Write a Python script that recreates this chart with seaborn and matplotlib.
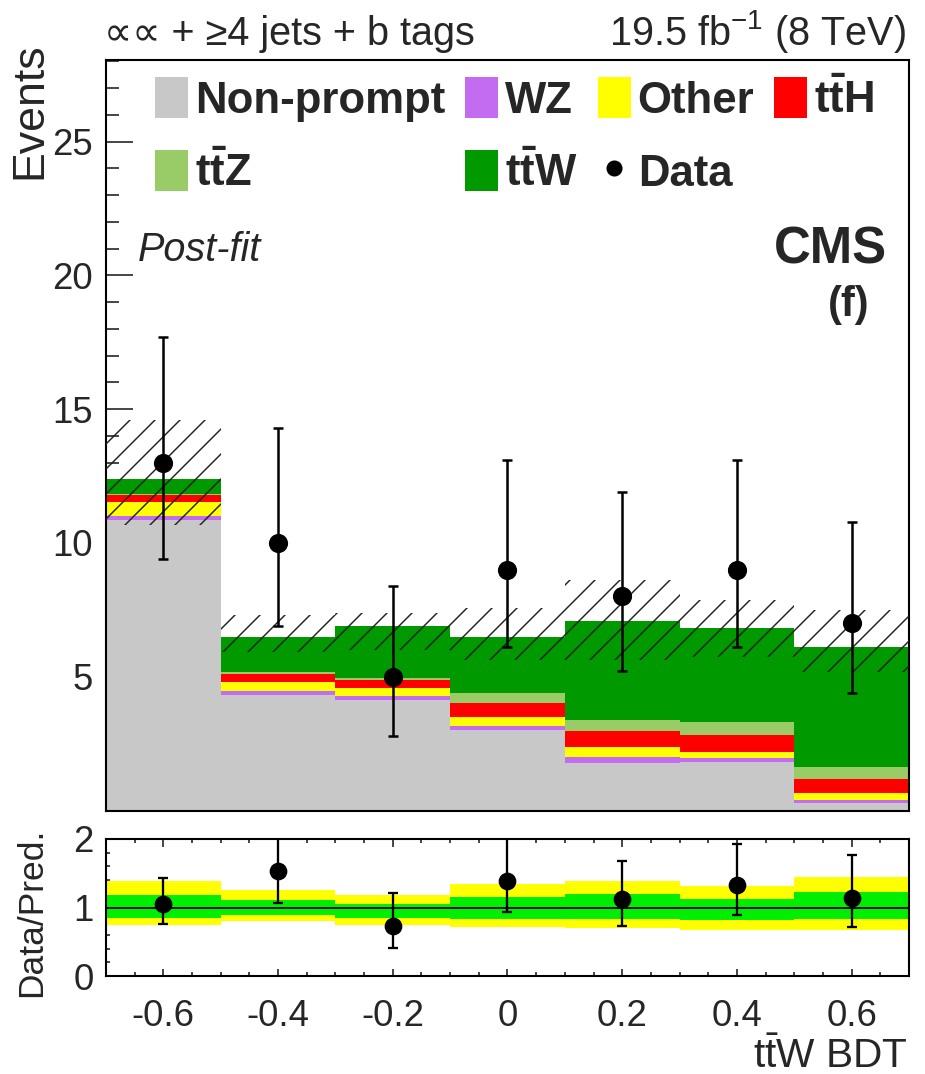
import numpy as np
import pandas as pd
import matplotlib
matplotlib.use("Agg")
import matplotlib.pyplot as plt
import seaborn as sns
from matplotlib.patches import Patch
from matplotlib.lines import Line2D
from matplotlib.ticker import MultipleLocator, FixedLocator

# ---- binning of the ttW BDT discriminant ----
bin_edges = [-0.7, -0.5, -0.3, -0.1, 0.1, 0.3, 0.5, 0.7]
bin_centers = [-0.6, -0.4, -0.2, 0.0, 0.2, 0.4, 0.6]
tick_labels = ["-0.6", "-0.4", "-0.2", "0", "0.2", "0.4", "0.6"]

# ---- post-fit expected yields per process ----
nonprompt = [10.86, 4.32, 4.13, 3.01, 1.76, 1.82, 0.27]
wz        = [0.15, 0.15, 0.16, 0.15, 0.23, 0.13, 0.12]
other     = [0.53, 0.35, 0.28, 0.35, 0.40, 0.25, 0.25]
tth       = [0.25, 0.28, 0.31, 0.52, 0.59, 0.62, 0.53]
ttz       = [0.03, 0.09, 0.06, 0.37, 0.40, 0.50, 0.47]
ttw       = [0.57, 1.31, 1.96, 2.10, 3.72, 3.49, 4.48]

# ---- uncertainty band on the total prediction ----
band_lo = [10.67, 5.94, 6.00, 5.63, 5.63, 5.74, 5.18]
band_hi = [14.60, 7.31, 7.37, 7.57, 8.62, 7.87, 7.50]

# ---- observed events with asymmetric Poisson errors ----
data = [13, 10, 5, 9, 8, 9, 7]
data_err_lo = [3.6, 3.1, 2.2, 2.9, 2.8, 2.9, 2.6]
data_err_hi = [4.7, 4.3, 3.4, 4.1, 3.9, 4.1, 3.8]

# ---- relative uncertainty bands for the ratio panel ----
ratio_inner_lo = [0.853, 0.887, 0.853, 0.838, 0.838, 0.824, 0.838]
ratio_inner_hi = [1.179, 1.116, 1.057, 1.155, 1.194, 1.131, 1.228]
ratio_outer_lo = [0.741, 0.804, 0.741, 0.716, 0.702, 0.677, 0.677]
ratio_outer_hi = [1.389, 1.262, 1.179, 1.350, 1.389, 1.311, 1.438]

processes = ["Non-prompt", "WZ", "Other", "ttH", "ttZ", "ttW"]  # bottom -> top
yields = [nonprompt, wz, other, tth, ttz, ttw]
colors = ["#c8c8c8", "#c36cf2", "#ffff00", "#ff0000", "#99cc66", "#009900"]
palette = dict(zip(processes, colors))

W, H, DPI = 926, 1074, 150

sns.set_theme(style="ticks")
plt.rcParams.update({
    "font.family": ["Liberation Sans", "DejaVu Sans"],
    "mathtext.fontset": "custom",
    "mathtext.rm": "Liberation Sans",
    "mathtext.bf": "Liberation Sans:bold",
    "mathtext.it": "Liberation Sans:italic",
    "axes.unicode_minus": False,
    "hatch.linewidth": 0.7,
    "axes.linewidth": 1.0,
    "axes.edgecolor": "black",
})


def fx(px):
    return px / W


def fy(py):
    return 1 - py / H


fig = plt.figure(figsize=(W / DPI, H / DPI), dpi=DPI)
ax = fig.add_axes([fx(106), fy(810.5), 803 / W, 750.5 / H])
rax = fig.add_axes([fx(106), fy(976), 803 / W, 137 / H])

# ---- stacked prediction ----
df = pd.DataFrame({
    "bdt": np.tile(bin_centers, len(processes)),
    "events": np.concatenate(yields),
    "process": np.repeat(processes, len(bin_centers)),
})
sns.histplot(df, x="bdt", weights="events", hue="process",
             hue_order=processes[::-1], palette=palette,
             multiple="stack", bins=bin_edges, element="bars",
             linewidth=0, alpha=1, shrink=1, legend=False, ax=ax)

total = np.sum(np.array(yields), axis=0)
lo = np.array(band_lo)
hi = np.array(band_hi)
ax.bar(bin_centers, hi - lo, width=0.2, bottom=lo, fill=False,
       hatch="//", edgecolor="#222222", linewidth=0, zorder=3)

ax.errorbar(bin_centers, data, yerr=[data_err_lo, data_err_hi], fmt="o",
            color="black", ms=8.2, elinewidth=1.2, capsize=2.5,
            capthick=1.2, zorder=5)

ax.set_xlim(-0.7, 0.7)
ax.set_ylim(0, 28.05)
ax.set_xlabel("")
ax.set_ylabel("")
ax.yaxis.set_major_locator(FixedLocator([5, 10, 15, 20, 25]))
ax.yaxis.set_minor_locator(MultipleLocator(1))
ax.xaxis.set_major_locator(FixedLocator(bin_centers))
ax.xaxis.set_minor_locator(MultipleLocator(0.05))
ax.tick_params(axis="y", which="major", direction="in", length=13, width=0.8,
               labelsize=17.5, pad=6.5, right=False)
ax.tick_params(axis="y", which="minor", direction="in", length=6.2, width=0.8,
               right=False)
ax.tick_params(axis="x", which="major", direction="in", length=9, width=0.8,
               labelbottom=False, top=False)
ax.tick_params(axis="x", which="minor", direction="in", length=4.8, width=0.8,
               top=False)

# ---- ratio panel ----
rax.stairs(ratio_outer_hi, bin_edges, baseline=ratio_outer_lo, fill=True,
           color="#ffff00", linewidth=0)
rax.stairs(ratio_inner_hi, bin_edges, baseline=ratio_inner_lo, fill=True,
           color="#00ee00", linewidth=0)
rax.axhline(1.0, color="black", linewidth=0.9, zorder=3)
ratio = np.array(data) / total
rax.errorbar(bin_centers, ratio,
             yerr=[np.array(data_err_lo) / total, np.array(data_err_hi) / total],
             fmt="o", color="black", ms=7.5, elinewidth=1.1, capsize=2.2,
             capthick=1.1, zorder=5)
rax.set_xlim(-0.7, 0.7)
rax.set_ylim(0, 2)
rax.set_xticks(bin_centers, tick_labels)
rax.xaxis.set_minor_locator(MultipleLocator(0.05))
rax.set_yticks([0, 1, 2], ["0", "1", "2"])
rax.yaxis.set_minor_locator(MultipleLocator(0.2))
rax.tick_params(axis="x", which="major", direction="in", length=3.6, width=0.8,
                top=True, labelsize=17.5, pad=11)
rax.tick_params(axis="x", which="minor", direction="in", length=2, width=0.8,
                top=True)
rax.tick_params(axis="y", which="major", direction="in", length=3.6, width=0.8,
                labelsize=17.5, pad=6)
rax.tick_params(axis="y", which="minor", direction="in", length=2, width=0.8)

# ---- legend ----
handles = [
    Patch(facecolor=palette["Non-prompt"], edgecolor="none"),
    Patch(facecolor=palette["ttZ"], edgecolor="none"),
    Patch(facecolor=palette["WZ"], edgecolor="none"),
    Patch(facecolor=palette["ttW"], edgecolor="none"),
    Patch(facecolor=palette["Other"], edgecolor="none"),
    Line2D([], [], marker="o", color="black", linestyle="none", ms=6.7),
    Patch(facecolor=palette["ttH"], edgecolor="none"),
]
labels = ["Non-prompt", r"$\mathbf{t\bar{t}Z}$", "WZ", r"$\mathbf{t\bar{t}W}$",
          "Other", "Data", r"$\mathbf{t\bar{t}H}$"]
fs_leg = 21
fs_px = fs_leg * DPI / 72
ax.legend(handles, labels, ncol=4, loc="upper left",
          bbox_to_anchor=(fx(155), fy(77)), bbox_transform=fig.transFigure,
          frameon=False, borderpad=0, borderaxespad=0,
          handlelength=33 / fs_px, handleheight=47 / fs_px,
          handletextpad=7 / fs_px, columnspacing=20 / fs_px,
          labelspacing=0.65, prop={"weight": "bold", "size": fs_leg})

# ---- annotations ----
fig.text(fx(104), fy(45), "∝∝ + ≥4 jets + b tags", fontsize=19,
         ha="left", va="baseline")
fig.text(fx(906), fy(45), r"19.5 fb$^{-1}$ (8 TeV)", fontsize=19,
         ha="right", va="baseline")
fig.text(fx(138), fy(261), "Post-fit", fontsize=19, style="italic",
         ha="left", va="baseline")
fig.text(fx(887), fy(263), "CMS", fontsize=24.5, weight="bold",
         ha="right", va="baseline")
fig.text(fx(870), fy(316), "(f)", fontsize=20, weight="bold",
         ha="right", va="baseline")
fig.text(fx(30), fy(42), "Events", fontsize=21.5, rotation=90,
         ha="center", va="top")
fig.text(fx(32), fy(828), "Data/Pred.", fontsize=17, rotation=90,
         ha="center", va="top")
fig.text(fx(908), fy(1068), r"t$\bar{\mathrm{t}}$W BDT", fontsize=19.5,
         ha="right", va="baseline")

fig.savefig("out.png", dpi=DPI)
